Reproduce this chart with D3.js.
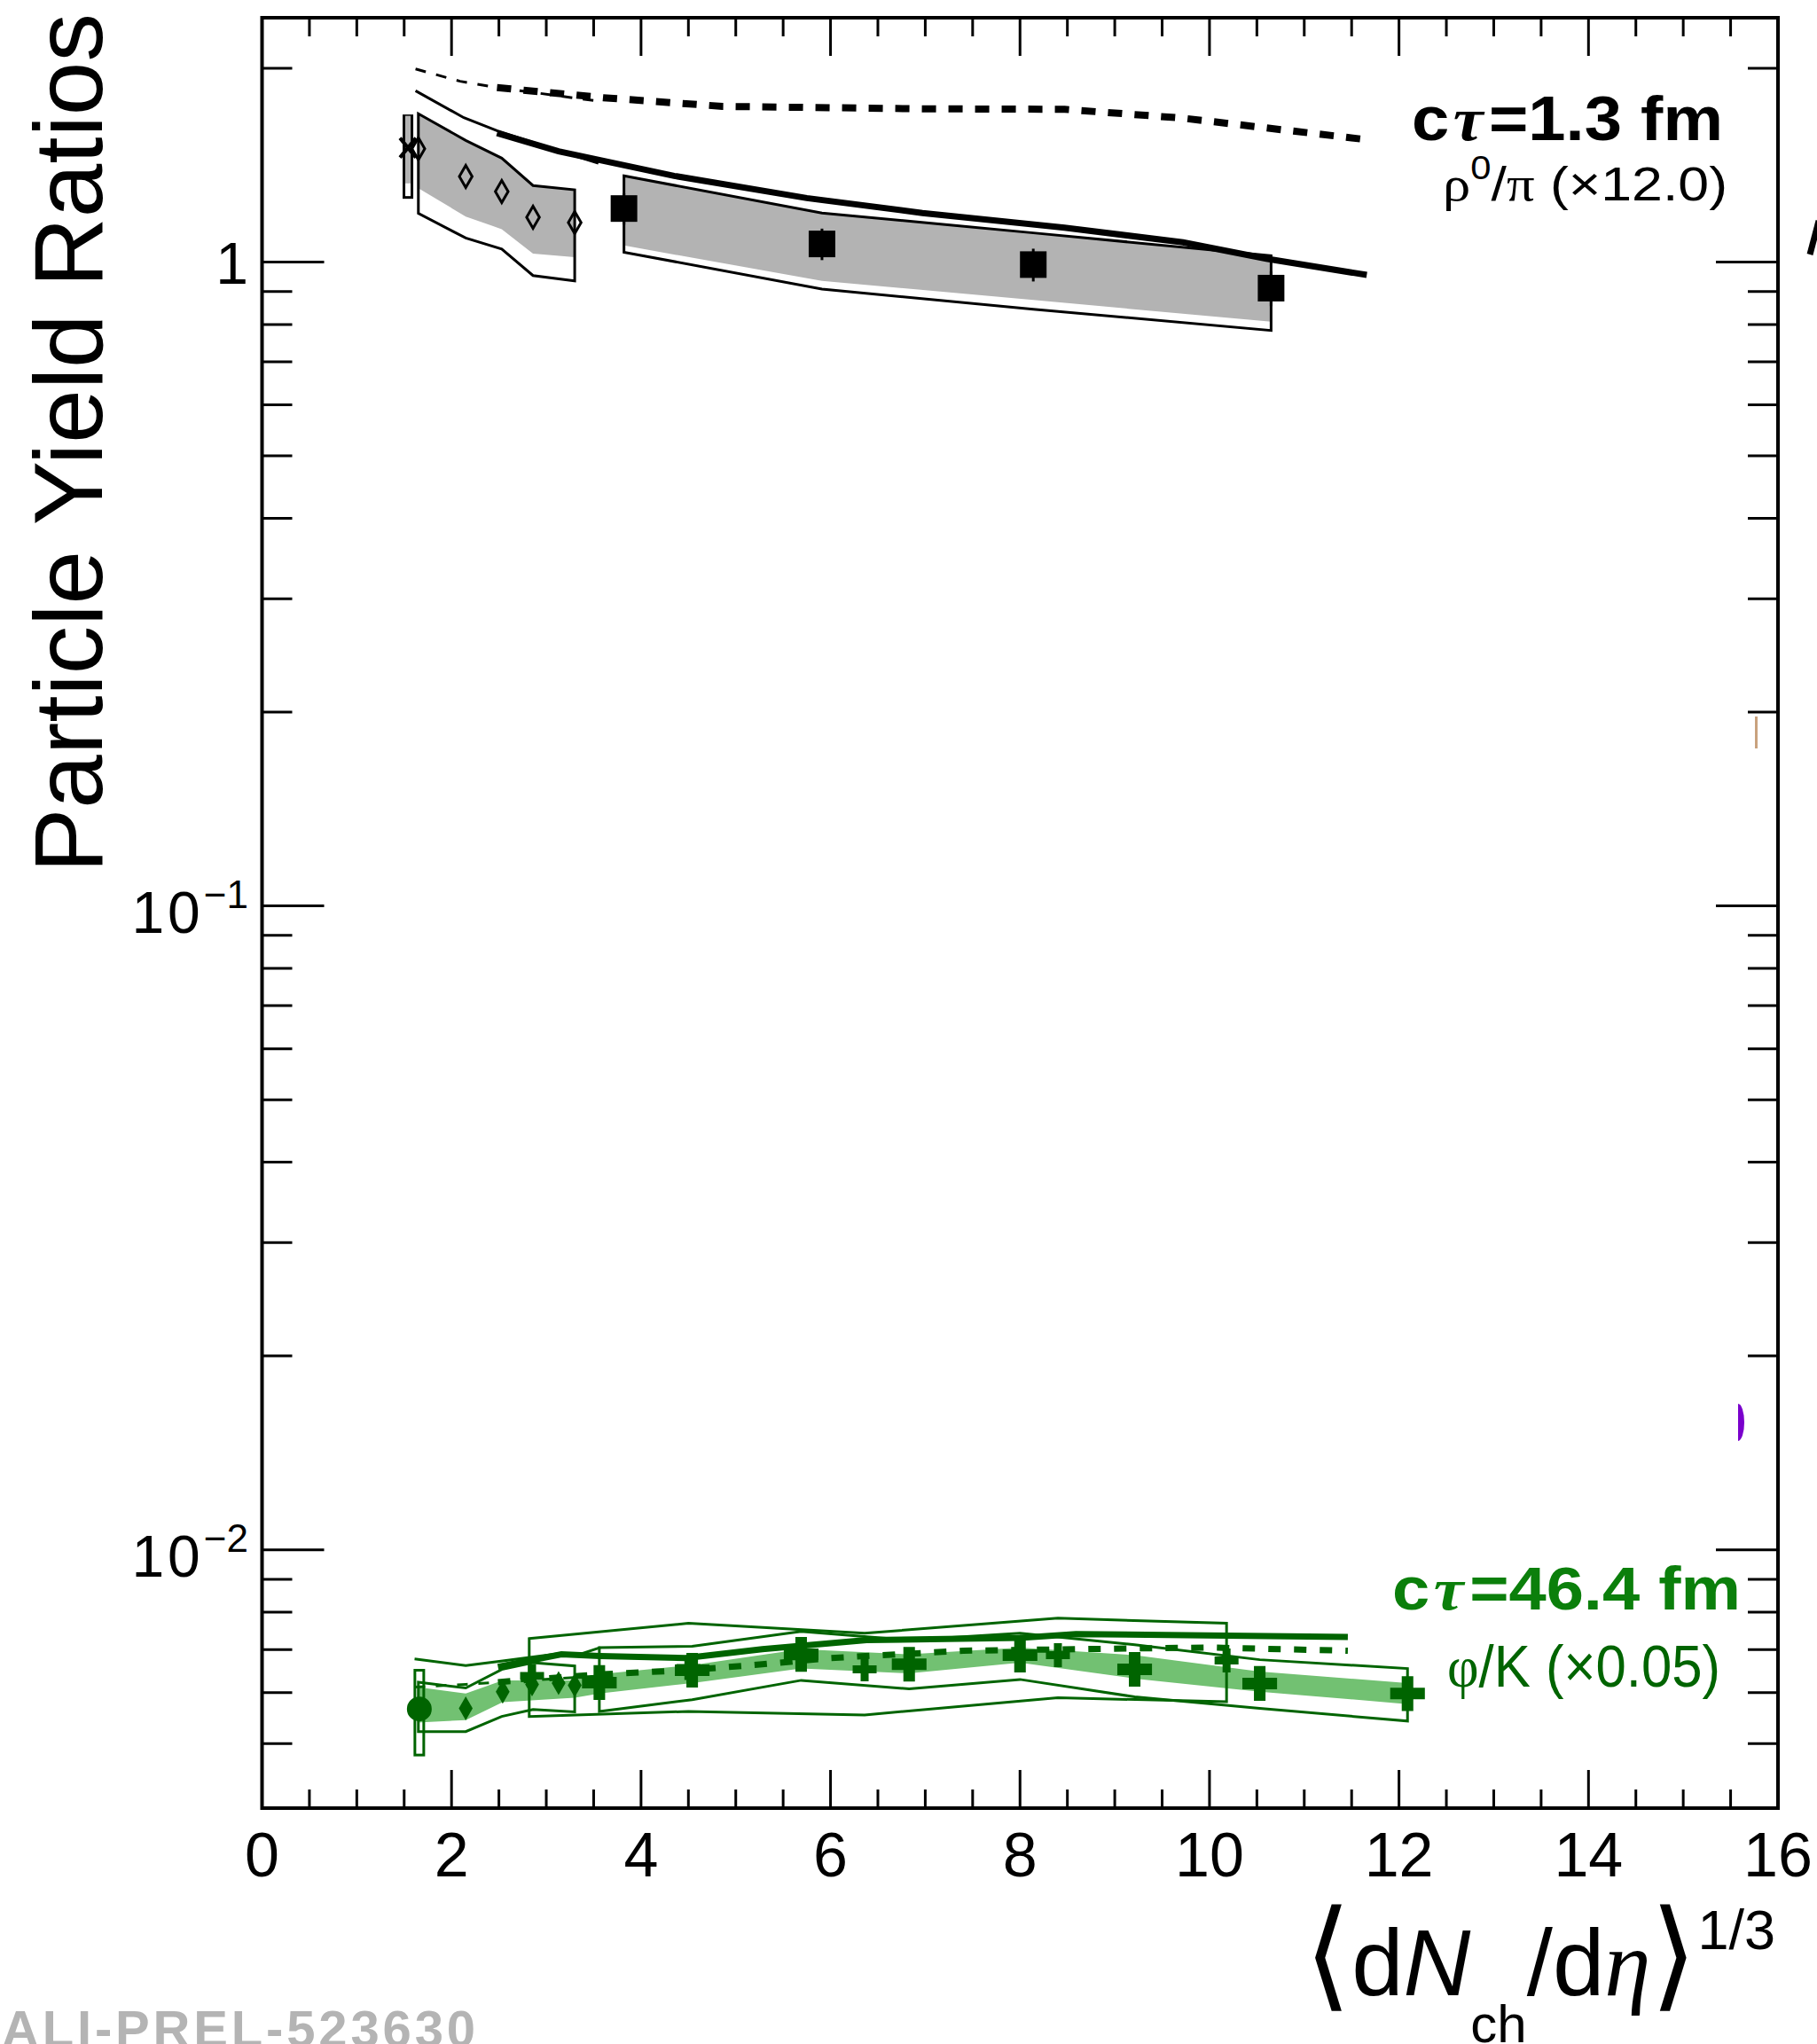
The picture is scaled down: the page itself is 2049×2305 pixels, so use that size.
<!DOCTYPE html>
<html>
<head>
<meta charset="utf-8">
<title>Particle Yield Ratios</title>
<style>
  body { margin: 0; background: #fff; }
  text { font-family: "Liberation Sans", Arial, sans-serif; }
</style>
</head>
<body>
<script src="https://cdn.jsdelivr.net/npm/d3@7"></script>
<script>

// ---------- data : rho0/pi (x12.0), black ----------
var rhoPPx      = [1.54];
var rhoPP       = [1.505];
var rhoPPsysLo  = [1.26];
var rhoPPsysHi  = [1.687];
var rhoPPsysMid = [1.325];      // grey part of the box

var rhoPPbX      = [1.65, 2.15, 2.53, 2.86, 3.30];
var rhoPPb       = [1.50, 1.358, 1.287, 1.174, 1.152];
var rhoPPbHi     = [1.70, 1.545, 1.45, 1.315, 1.295];
var rhoPPbFillLo = [1.302, 1.177, 1.125, 1.031, 1.018];
var rhoPPbBoxLo  = [1.19, 1.09, 1.048, 0.953, 0.935];

var rhoPbX      = [3.82, 5.91, 8.14, 10.65];
var rhoPb       = [1.211, 1.067, 0.991, 0.911];
var rhoPbStat   = [0.068, 0.06, 0.058, 0.057];
var rhoPbHi     = [1.361, 1.192, 1.11, 1.023];
var rhoPbFillLo = [1.061, 0.935, 0.873, 0.808];
var rhoPbBoxLo  = [1.036, 0.908, 0.845, 0.783];

// model curves
var rhoThinSolidX  = [1.62, 2.13, 2.48, 3.13, 3.55];
var rhoThinSolid   = [1.845, 1.676, 1.60, 1.489, 1.424];
var rhoThinDashX   = [1.62, 2.09, 2.48, 3.55];
var rhoThinDash    = [1.995, 1.909, 1.866, 1.778];
var rhoThickSolidX = [2.48, 3.13, 4.35, 5.75, 6.97, 8.47, 9.72, 10.60, 11.66];
var rhoThickSolid  = [1.586, 1.486, 1.361, 1.257, 1.192, 1.131, 1.073, 1.012, 0.955];
var rhoThickDashX  = [2.48, 3.60, 4.86, 6.97, 8.47, 9.72, 11.60];
var rhoThickDash   = [1.866, 1.80, 1.745, 1.73, 1.727, 1.673, 1.553];

// ---------- data : phi/K (x0.05), green ----------
var phiPPx     = [1.66];
var phiPP      = [0.00566];
var phiPPsysLo = [0.0048];
var phiPPsysHi = [0.0065];

var phiPPbX     = [2.15, 2.54, 2.85, 3.13, 3.30];
var phiPPb      = [0.00567, 0.00602, 0.00618, 0.00621, 0.00616];
var phiPPbBoxX  = [1.65, 2.15, 2.53, 2.86, 3.30];
var phiPPbBoxHi = [0.00623, 0.0061, 0.00652, 0.00668, 0.0066];
var phiPPbBoxLo = [0.00522, 0.00522, 0.00551, 0.00565, 0.0056];

var phiBandX  = [1.64, 2.15, 2.54, 3.30, 3.56, 4.54, 5.69, 6.83, 8.00, 9.21, 10.53, 12.09];
var phiBandHi = [0.00612, 0.00598, 0.00627, 0.00627, 0.00641, 0.00662, 0.00701, 0.00688, 0.00705, 0.00686, 0.00647, 0.00621];
var phiBandLo = [0.00539, 0.00544, 0.0058, 0.00589, 0.00598, 0.00621, 0.00654, 0.00643, 0.00668, 0.00631, 0.00602, 0.00576];

var phiPbX     = [3.56, 4.54, 5.69, 6.83, 8.00, 9.21, 10.53, 12.09];
var phiPb      = [0.00622, 0.0065, 0.00688, 0.00664, 0.00686, 0.00652, 0.0062, 0.00598];
var phiPbBoxHi = [0.00705, 0.00708, 0.00747, 0.00724, 0.00742, 0.00712, 0.00675, 0.00654];
var phiPbBoxLo = [0.00561, 0.00585, 0.00627, 0.00608, 0.00629, 0.00591, 0.00567, 0.00542];

var phiXeX     = [2.85, 4.50, 6.36, 8.40, 10.18];
var phiXe      = [0.00637, 0.00655, 0.00652, 0.00686, 0.00673];
var phiXeBoxX  = [2.82, 4.50, 6.36, 8.40, 10.18];
var phiXeBoxHi = [0.00728, 0.00769, 0.00742, 0.00783, 0.00769];
var phiXeBoxLo = [0.00551, 0.00561, 0.00554, 0.00589, 0.00581];

var phiThinSolidX  = [1.61, 2.15, 2.54, 3.13, 3.30, 3.57];
var phiThinSolid   = [0.00677, 0.00661, 0.00672, 0.0069, 0.00684, 0.00705];
var phiThinDashX   = [1.61, 2.15, 2.54, 3.57];
var phiThinDash    = [0.00612, 0.00618, 0.00623, 0.00637];
var phiThickSolidX = [2.49, 3.16, 3.57, 4.47, 5.28, 6.38, 8.00, 8.59, 11.46];
var phiThickSolid  = [0.00658, 0.00688, 0.00684, 0.00679, 0.00701, 0.00724, 0.0073, 0.0074, 0.00732];
var phiThickDashX  = [2.49, 3.60, 4.47, 5.28, 6.00, 7.40, 8.59, 10.00, 11.46];
var phiThickDash   = [0.00623, 0.00641, 0.0065, 0.00664, 0.00679, 0.00697, 0.00701, 0.00705, 0.00697];

// ---------- axes ----------
var xTicks = d3.range(0, 16.001, 0.5);
var xLabels = [0, 2, 4, 6, 8, 10, 12, 14, 16];
var yMajor = [0.01, 0.1, 1];

var width = 2049, height = 2305;
var x = d3.scaleLinear().domain([0, 16]).range([295.5, 2005]);
var y = d3.scaleLog().domain([0.00397, 2.396]).range([2039, 20]);

var black = "#000", grey = "#b3b3b3", dkGreen = "#006400", ltGreen = "#72c172";

var svg = d3.select("body").append("svg")
  .attr("width", width).attr("height", height);
svg.append("rect").attr("width", width).attr("height", height).attr("fill", "#fff");

function pts(xs, ys) { return xs.map(function(v, i) { return [v, ys[i]]; }); }
function bpts(xs, lo, hi) { return xs.map(function(v, i) { return [v, lo[i], hi[i]]; }); }
var line = d3.line().x(function(d) { return x(d[0]); }).y(function(d) { return y(d[1]); });
var band = d3.area().x(function(d) { return x(d[0]); })
  .y0(function(d) { return y(d[1]); }).y1(function(d) { return y(d[2]); });

// filled bands
svg.append("path").attr("d", band(bpts(rhoPPbX, rhoPPbFillLo, rhoPPbHi))).attr("fill", grey);
svg.append("path").attr("d", band(bpts(rhoPbX, rhoPbFillLo, rhoPbHi))).attr("fill", grey);
svg.append("path").attr("d", band(bpts(phiBandX, phiBandLo, phiBandHi))).attr("fill", ltGreen);

// outline bands
svg.append("path").attr("d", band(bpts(rhoPPbX, rhoPPbBoxLo, rhoPPbHi)))
  .attr("fill", "none").attr("stroke", black).attr("stroke-width", 3);
svg.append("path").attr("d", band(bpts(rhoPbX, rhoPbBoxLo, rhoPbHi)))
  .attr("fill", "none").attr("stroke", black).attr("stroke-width", 3);
[[phiPPbBoxX, phiPPbBoxLo, phiPPbBoxHi], [phiXeBoxX, phiXeBoxLo, phiXeBoxHi], [phiPbX, phiPbBoxLo, phiPbBoxHi]]
  .forEach(function(b) {
    svg.append("path").attr("d", band(bpts(b[0], b[1], b[2])))
      .attr("fill", "none").attr("stroke", dkGreen).attr("stroke-width", 3);
  });

// small systematic boxes
rhoPPx.forEach(function(v, i) {
  svg.append("rect").attr("x", x(v) - 4.5).attr("width", 9)
    .attr("y", y(rhoPPsysHi[i])).attr("height", y(rhoPPsysLo[i]) - y(rhoPPsysHi[i]))
    .attr("fill", "#fff").attr("stroke", black).attr("stroke-width", 3);
  svg.append("rect").attr("x", x(v) - 3).attr("width", 6)
    .attr("y", y(rhoPPsysHi[i])).attr("height", y(rhoPPsysMid[i]) - y(rhoPPsysHi[i]))
    .attr("fill", grey);
});
phiPPx.forEach(function(v, i) {
  svg.append("rect").attr("x", x(v) - 5).attr("width", 10)
    .attr("y", y(phiPPsysHi[i])).attr("height", y(phiPPsysLo[i]) - y(phiPPsysHi[i]))
    .attr("fill", "none").attr("stroke", dkGreen).attr("stroke-width", 3);
});

// model curves
function curve(xs, ys, col, w, dash) {
  svg.append("path").attr("d", line(pts(xs, ys))).attr("fill", "none")
    .attr("stroke", col).attr("stroke-width", w).attr("stroke-dasharray", dash || null);
}
curve(rhoThinSolidX, rhoThinSolid, black, 3);
curve(rhoThinDashX, rhoThinDash, black, 3, "12,12");
curve(rhoThickSolidX, rhoThickSolid, black, 7);
curve(rhoThickDashX, rhoThickDash, black, 8, "16,14");
curve(phiThinSolidX, phiThinSolid, dkGreen, 3);
curve(phiThinDashX, phiThinDash, dkGreen, 3, "12,12");
curve(phiThickSolidX, phiThickSolid, dkGreen, 7);
curve(phiThickDashX, phiThickDash, dkGreen, 7, "14,15");

// stat errors
rhoPbX.forEach(function(v, i) {
  svg.append("line").attr("x1", x(v)).attr("x2", x(v))
    .attr("y1", y(rhoPb[i] + rhoPbStat[i])).attr("y2", y(rhoPb[i] - rhoPbStat[i]))
    .attr("stroke", black).attr("stroke-width", 3);
});

// markers
function markers(xs, ys, type, size, fill, stroke, sw) {
  svg.append("g").selectAll("path").data(pts(xs, ys)).join("path")
    .attr("transform", function(d) { return "translate(" + x(d[0]) + "," + y(d[1]) + ")"; })
    .attr("d", d3.symbol().type(type).size(size))
    .attr("fill", fill).attr("stroke", stroke || "none").attr("stroke-width", sw || 0);
}
markers(rhoPPbX, rhoPPb, d3.symbolDiamond, 180, "none", black, 3);
markers(rhoPbX, rhoPb, d3.symbolSquare, 900, black);
svg.append("g").selectAll("path").data(pts(rhoPPx, rhoPP)).join("path")
  .attr("transform", function(d) { return "translate(" + x(d[0]) + "," + y(d[1]) + ")"; })
  .attr("d", "M-9,-11L9,11M-9,11L9,-11")
  .attr("stroke", black).attr("stroke-width", 4);

markers(phiPPx, phiPP, d3.symbolCircle, 616, dkGreen);
markers(phiPPbX, phiPPb, d3.symbolDiamond, 210, dkGreen);
markers(phiXeX, phiXe, d3.symbolCross, 405, dkGreen);
markers(phiPbX, phiPb, d3.symbolCross, 850, dkGreen);

// frame and ticks
var axisG = svg.append("g").attr("stroke", black);
xTicks.forEach(function(v) {
  var len = (v % 2 === 0) ? 43 : 21;
  axisG.append("line").attr("x1", x(v)).attr("x2", x(v)).attr("y1", 2039).attr("y2", 2039 - len).attr("stroke-width", 3);
  axisG.append("line").attr("x1", x(v)).attr("x2", x(v)).attr("y1", 20).attr("y2", 20 + len).attr("stroke-width", 3);
});
y.ticks().forEach(function(v) {
  var py = y(v);
  if (py < 25 || py > 2034) return;
  var len = yMajor.indexOf(v) >= 0 ? 70 : 34;
  axisG.append("line").attr("x1", 295.5).attr("x2", 295.5 + len).attr("y1", py).attr("y2", py).attr("stroke-width", 3);
  axisG.append("line").attr("x1", 2005).attr("x2", 2005 - len).attr("y1", py).attr("y2", py).attr("stroke-width", 3);
});
svg.append("rect").attr("x", 295.5).attr("y", 20).attr("width", 2005 - 295.5).attr("height", 2039 - 20)
  .attr("fill", "none").attr("stroke", black).attr("stroke-width", 4);

// tick labels
xLabels.forEach(function(v) {
  svg.append("text").attr("x", x(v)).attr("y", 2116).attr("text-anchor", "middle")
    .attr("font-size", 70).text(v);
});
yMajor.forEach(function(v) {
  var e = Math.round(Math.log10(v));
  var t = svg.append("text").attr("x", 280).attr("text-anchor", "end").attr("font-size", 66);
  if (e === 0) {
    t.attr("y", y(v) + 24).text("1");
  } else {
    t.attr("y", y(v) + 30);
    t.append("tspan").attr("letter-spacing", 4).text("10");
    t.append("tspan").attr("font-size", 44).attr("dy", -28).text("\u2212" + (-e));
  }
});

// axis titles
svg.append("text").attr("transform", "translate(115,15) rotate(-90)")
  .attr("text-anchor", "end").attr("font-size", 109).text("Particle Yield Ratios");

var xt = svg.append("text").attr("x", 2002).attr("y", 2250).attr("text-anchor", "end").attr("font-size", 105);
xt.append("tspan").attr("font-family", "DejaVu Sans").attr("font-size", 135).attr("font-weight", 200).text("\u27E8");
xt.append("tspan").text("d");
xt.append("tspan").attr("font-style", "italic").text("N");
xt.append("tspan").attr("font-size", 60).attr("dy", 53).text("ch");
xt.append("tspan").attr("dy", -53).text("/d");
xt.append("tspan").attr("font-family", "Liberation Serif").attr("font-style", "italic").text("\u03B7");
xt.append("tspan").attr("font-family", "DejaVu Sans").attr("font-size", 135).attr("font-weight", 200).text("\u27E9");
xt.append("tspan").attr("font-size", 63).attr("dy", -52).text("1/3");

// legend texts, stretched to the width seen in the figure
function fit(t, xr, w) {
  var bw = t.node().getBBox().width;
  var s = w / bw;
  t.attr("transform", "translate(" + xr + ",0) scale(" + s + ",1) translate(" + (-xr) + ",0)");
}
var l1 = svg.append("text").attr("x", 1943).attr("y", 158).attr("text-anchor", "end")
  .attr("font-size", 70).attr("font-weight", "bold").attr("fill", black);
l1.append("tspan").text("c");
l1.append("tspan").attr("dx", 4).attr("font-family", "Liberation Serif").attr("font-style", "italic").text("\u03C4");
l1.append("tspan").attr("dx", 6).text("=1.3 fm");
fit(l1, 1943, 351);

var l2 = svg.append("text").attr("x", 1948).attr("y", 226).attr("text-anchor", "end")
  .attr("font-size", 54).attr("fill", black);
l2.append("tspan").attr("font-family", "Liberation Serif").text("\u03C1");
l2.append("tspan").attr("font-size", 36).attr("dy", -24).text("0");
l2.append("tspan").attr("dy", 24).text("/");
l2.append("tspan").attr("font-family", "Liberation Serif").text("\u03C0");
l2.append("tspan").text(" (\u00D712.0)");
fit(l2, 1948, 321);

var l3 = svg.append("text").attr("x", 1963).attr("y", 1815).attr("text-anchor", "end")
  .attr("font-size", 68).attr("font-weight", "bold").attr("fill", "#0b7f0b");
l3.append("tspan").text("c");
l3.append("tspan").attr("dx", 4).attr("font-family", "Liberation Serif").attr("font-style", "italic").text("\u03C4");
l3.append("tspan").attr("dx", 6).text("=46.4 fm");
fit(l3, 1963, 393);

var l4 = svg.append("text").attr("x", 1940).attr("y", 1902).attr("text-anchor", "end")
  .attr("font-size", 66).attr("fill", dkGreen);
l4.append("tspan").attr("font-family", "Liberation Serif").text("\u03C6");
l4.append("tspan").text("/K (\u00D70.05)");
fit(l4, 1940, 308);

// clipped pieces of neighbouring content at the right edge
svg.append("path").attr("d", "M1960,1583 A7,21 0 0 1 1960,1625 Z").attr("fill", "#7a00cc");
svg.append("rect").attr("x", 1979).attr("y", 808).attr("width", 3).attr("height", 36).attr("fill", "#c9a27e");
svg.append("line").attr("x1", 2041).attr("y1", 287).attr("x2", 2051).attr("y2", 249)
  .attr("stroke", black).attr("stroke-width", 7);

// preliminary tag
svg.append("text").attr("x", 2).attr("y", 2308)
  .attr("font-family", "'Liberation Mono', 'DejaVu Sans Mono', monospace")
  .attr("font-weight", "bold").attr("font-size", 58).attr("fill", "#b4b4b4")
  .attr("textLength", 534).attr("lengthAdjust", "spacing").text("ALI-PREL-523630");

</script>
</body>
</html>
